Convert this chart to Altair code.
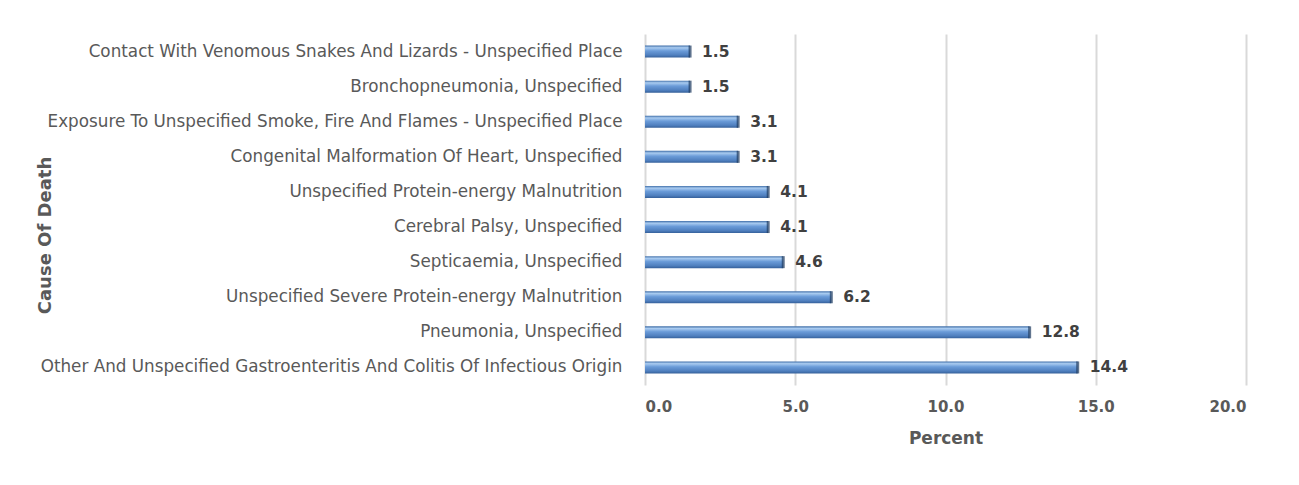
import altair as alt
import pandas as pd

causes = [
    "Contact With Venomous Snakes And Lizards - Unspecified Place",
    "Bronchopneumonia, Unspecified",
    "Exposure To Unspecified Smoke, Fire And Flames - Unspecified Place",
    "Congenital Malformation Of Heart, Unspecified",
    "Unspecified Protein-energy Malnutrition",
    "Cerebral Palsy, Unspecified",
    "Septicaemia, Unspecified",
    "Unspecified Severe Protein-energy Malnutrition",
    "Pneumonia, Unspecified",
    "Other And Unspecified Gastroenteritis And Colitis Of Infectious Origin",
]
percent = [1.5, 1.5, 3.1, 3.1, 4.1, 4.1, 4.6, 6.2, 12.8, 14.4]
x_ticks = [0, 5, 10, 15, 20]

df = pd.DataFrame({"cause": causes, "percent": percent})

FONT = "DejaVu Sans"
GRAY = "#595959"

y_enc = alt.Y(
    "cause:N",
    sort=causes,
    axis=alt.Axis(
        title="Cause Of Death",
        titleFont=FONT,
        titleFontSize=18,
        titleFontWeight="bold",
        titleColor=GRAY,
        titleAngle=-90,
        titleAlign="center",
        titleBaseline="middle",
        titleX=-600,
        titleY=201,
        labelFont=FONT,
        labelFontSize=16.8,
        labelColor=GRAY,
        labelPadding=23,
        labelLimit=0,
        ticks=False,
        domain=False,
        grid=False,
    ),
)

x_enc = alt.X(
    "percent:Q",
    scale=alt.Scale(domain=[0, 20], nice=False),
    axis=alt.Axis(
        title="Percent",
        titleFont=FONT,
        titleFontSize=17,
        titleFontWeight="bold",
        titleColor=GRAY,
        titleBaseline="middle",
        titleY=53,
        values=x_ticks,
        format=".1f",
        labelFont=FONT,
        labelFontSize=15,
        labelFontWeight="bold",
        labelColor=GRAY,
        labelPadding=14,
        ticks=False,
        domain=False,
        grid=True,
        gridColor="#d9d9d9",
        gridWidth=2,
    ),
)

base = alt.Chart(df).encode(y=y_enc, x=x_enc)

bars = base.mark_bar(
    size=12,
    color=alt.Gradient(
        gradient="linear",
        x1=0, x2=0, y1=0, y2=1,
        stops=[
            alt.GradientStop(offset=0.0, color="#3f6ea8"),
            alt.GradientStop(offset=0.18, color="#a9cbf0"),
            alt.GradientStop(offset=0.45, color="#6a9bd8"),
            alt.GradientStop(offset=0.8, color="#4f7fbe"),
            alt.GradientStop(offset=1.0, color="#35609a"),
        ],
    ),
)

caps = base.mark_tick(size=12, thickness=3, color="#1e3a60")

labels = base.mark_text(
    align="left", baseline="middle", dx=12,
    font=FONT, fontSize=15.5, fontWeight="bold", color="#404040",
).encode(text=alt.Text("percent:Q", format=".1f"))

chart = (
    alt.layer(bars, caps, labels)
    .properties(
        width=601,
        height=351,
        autosize=alt.AutoSizeParams(type="none"),
        padding={"left": 637, "top": 26, "right": 40, "bottom": 80},
        background="white",
    )
    .configure_view(stroke=None)
)

chart.save("out.html", embed_options={"renderer": "svg", "actions": False})
